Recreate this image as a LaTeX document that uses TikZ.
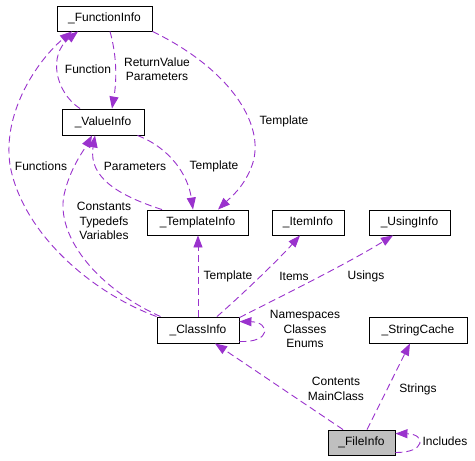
\documentclass[tikz,border=0pt]{standalone}
\usepackage{fontspec}
\setmainfont{Liberation Sans}
\usetikzlibrary{arrows.meta}
\definecolor{edgec}{HTML}{9A32CD}
\tikzset{
  cls/.style={draw=black, line width=0.9pt, fill=white, inner sep=0pt, minimum height=25pt, font=\fontsize{12}{14.5}\selectfont},
  rel/.style={draw=edgec, line width=0.9pt, dash pattern=on 7pt off 4pt, -{Triangle[length=12pt,width=9pt,fill=edgec]}},
  lbl/.style={inner sep=0pt, align=center, font=\fontsize{12}{14.5}\selectfont}
}
\begin{document}
\begin{tikzpicture}[x=1pt,y=-1pt]
\useasboundingbox[fill=white] (0,0) rectangle (475,461);
% classes
\node[cls, minimum width=95pt] (fi) at (104.5,18.5) {\_FunctionInfo};
\node[cls, minimum width=82pt, minimum height=26pt] (vi) at (103,122) {\_ValueInfo};
\node[cls, minimum width=101pt] (tf) at (197.5,222.5) {\_TemplateInfo};
\node[cls, minimum width=72pt] (ii) at (308,222.5) {\_ItemInfo};
\node[cls, minimum width=81pt] (ui) at (409.5,222.5) {\_UsingInfo};
\node[cls, minimum width=82pt, minimum height=26pt] (ci) at (198,330) {\_ClassInfo};
\node[cls, minimum width=98pt, minimum height=26pt] (sc) at (418,330) {\_StringCache};
\node[cls, minimum width=67pt, fill={rgb,255:red,191;green,191;blue,191}] (fl) at (361.5,442.5) {\_FileInfo};
% edges
\draw[rel] ([xshift=-23pt]vi.north) .. controls (55,92) and (48,55) .. ([xshift=-26.5pt]fi.south);
\draw[rel] ([xshift=5.5pt]fi.south) .. controls (118,60) and (116,85) .. ([xshift=9pt]vi.north);
\draw[rel] (fi.south east) .. controls (232,70) and (268,128) .. (251,168) .. controls (243,188) and (230,198) .. ([xshift=20.5pt]tf.north);
\draw[rel] ([xshift=-7pt]vi.south east) .. controls (170,148) and (188,175) .. ([xshift=-4.5pt]tf.north);
\draw[rel] ([xshift=-35.5pt]tf.north) .. controls (120,196) and (88,178) .. ([xshift=-8pt]vi.south);
\draw[rel] (ci.north west) .. controls (90,292) and (22,232) .. (10,165) .. controls (2,110) and (40,58) .. ([xshift=-32.5pt]fi.south);
\draw[rel] ([xshift=4pt]ci.north west) .. controls (95,287) and (56,235) .. (64,195) .. controls (70,168) and (84,150) .. ([xshift=-11pt]vi.south);
\draw[rel] (ci.north) -- (ci.north |- tf.south);
\draw[rel] ([xshift=19pt]ci.north) .. controls (245,292) and (280,258) .. ([xshift=-8pt]ii.south);
\draw[rel] ([yshift=-1pt]ci.north east) .. controls (290,292) and (350,262) .. ([xshift=-16.5pt]ui.south);
\draw[rel] ([yshift=2pt]ci.south east) .. controls (272,343) and (270,322) .. ([yshift=-5pt]ci.north east);
\draw[rel] ([xshift=-18.5pt]fl.north) -- ([xshift=17pt]ci.south);
\draw[rel] ([xshift=5.5pt]fl.north) -- ([xshift=-8pt]sc.south);
\draw[rel] ([yshift=3pt]fl.south east) .. controls (426,453) and (426,434) .. ([yshift=-4pt]fl.north east);
% labels
\node[lbl] (l1) at (88,69) {Function};
\node[lbl] (l2) at (157,69) {ReturnValue\\Parameters};
\node[lbl] (l3) at (284,121) {Template};
\node[lbl] (l4) at (41,166) {Functions};
\node[lbl] (l5) at (135,166) {Parameters};
\node[lbl] (l6) at (214,166) {Template};
\node[lbl] (l7) at (104,221) {Constants\\Typedefs\\Variables};
\node[lbl] (l8) at (228,276) {Template};
\node[lbl] (l9) at (294,276) {Items};
\node[lbl] (l10) at (366,276) {Usings};
\node[lbl] (l11) at (305,329) {Namespaces\\Classes\\Enums};
\node[lbl] (l12) at (336,389) {Contents\\MainClass};
\node[lbl] (l13) at (418,389) {Strings};
\node[lbl] (l14) at (445,441) {Includes};
\end{tikzpicture}
\end{document}
